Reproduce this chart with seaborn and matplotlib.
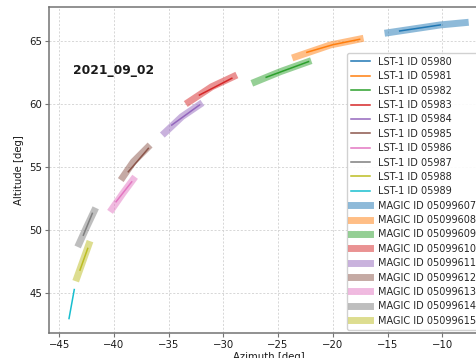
import matplotlib
matplotlib.use("Agg")
import matplotlib.pyplot as plt
import seaborn as sns

# LST-1 runs: azimuth / altitude samples along each pointing track
lst_ids = ["05980", "05981", "05982", "05983", "05984",
           "05985", "05986", "05987", "05988", "05989"]
lst_az = [
    [-13.89, -10.17],
    [-22.37, -20.0, -17.55],
    [-26.09, -22.22],
    [-32.19, -29.23],
    [-34.72, -32.19],
    [-38.69, -36.86],
    [-39.81, -38.38],
    [-42.80, -41.98],
    [-43.11, -42.40],
    [-44.11, -43.63],
]
lst_alt = [
    [65.79, 66.27],
    [64.10, 64.70, 65.13],
    [62.12, 63.36],
    [60.71, 62.04],
    [58.33, 59.92],
    [54.63, 56.48],
    [52.25, 53.83],
    [49.60, 51.33],
    [46.83, 48.55],
    [42.99, 45.29],
]

# MAGIC runs
magic_ids = ["05099607", "05099608", "05099609", "05099610", "05099611",
             "05099612", "05099613", "05099614", "05099615"]
magic_az = [
    [-15.27, -10.17, -7.58],
    [-23.71, -20.23, -17.19],
    [-27.40, -24.81, -21.97],
    [-33.44, -31.06, -28.77],
    [-35.58, -33.80, -31.92],
    [-39.38, -38.23, -36.70],
    [-40.36, -39.20, -38.07],
    [-43.32, -42.49, -41.67],
    [-43.50, -42.19],
]
magic_alt = [
    [65.61, 66.27, 66.48],
    [63.65, 64.68, 65.21],
    [61.64, 62.56, 63.44],
    [60.00, 61.37, 62.30],
    [57.54, 58.99, 60.10],
    [53.97, 55.42, 56.75],
    [51.45, 52.90, 54.23],
    [48.67, 50.26, 51.77],
    [45.95, 49.13],
]

night = "2021_09_02"

sns.set_style("ticks")
plt.rcParams["font.family"] = ["DejaVu Sans"]

palette = sns.color_palette("tab10", 10)

fig = plt.figure(figsize=(4.77, 3.58), dpi=100)
ax = fig.add_axes([0.1034, 0.0707, 0.920, 0.909])

for i, (rid, az, alt) in enumerate(zip(lst_ids, lst_az, lst_alt)):
    sns.lineplot(x=az, y=alt, ax=ax, color=palette[i], linewidth=1.1,
                 sort=False, estimator=None, solid_capstyle="projecting",
                 label=f"LST-1 ID {rid}")

for i, (rid, az, alt) in enumerate(zip(magic_ids, magic_az, magic_alt)):
    sns.lineplot(x=az, y=alt, ax=ax, color=palette[i], linewidth=5.0,
                 alpha=0.5, sort=False, estimator=None,
                 solid_capstyle="butt", label=f"MAGIC ID {rid}")

ax.set_xlim(-45.91, -5.8)
ax.set_ylim(41.87, 67.67)
ax.set_xticks([-45, -40, -35, -30, -25, -20, -15, -10])
ax.set_yticks([45, 50, 55, 60, 65])

ax.grid(True, linestyle=(0, (2.5, 2)), color="0.82", linewidth=0.6)
for side in ["left", "bottom", "top", "right"]:
    ax.spines[side].set_color("0.45")
    ax.spines[side].set_linewidth(1.1)
ax.tick_params(axis="both", labelsize=7.3, color="0.45", length=3,
               width=0.8, labelcolor="0.1", pad=2)

ax.set_xlabel("Azimuth [deg]", fontsize=7.3, color="0.1", labelpad=2)
ax.set_ylabel("Altitude [deg]", fontsize=7.3, color="0.1", labelpad=4)

ax.text(0.0533, 0.806, night, transform=ax.transAxes, fontsize=8.8,
        fontweight="bold", va="center", ha="left", color="0.1")

leg = ax.legend(loc="upper left", bbox_to_anchor=(346.7 / 477, 1 - 53 / 358),
                bbox_transform=fig.transFigure, borderaxespad=0, fontsize=7.0,
                labelspacing=0.45, frameon=True, edgecolor="0.8",
                framealpha=0.9)
for line in leg.get_lines():
    line.set_solid_capstyle("projecting")

fig.savefig("out.png", dpi=100)
